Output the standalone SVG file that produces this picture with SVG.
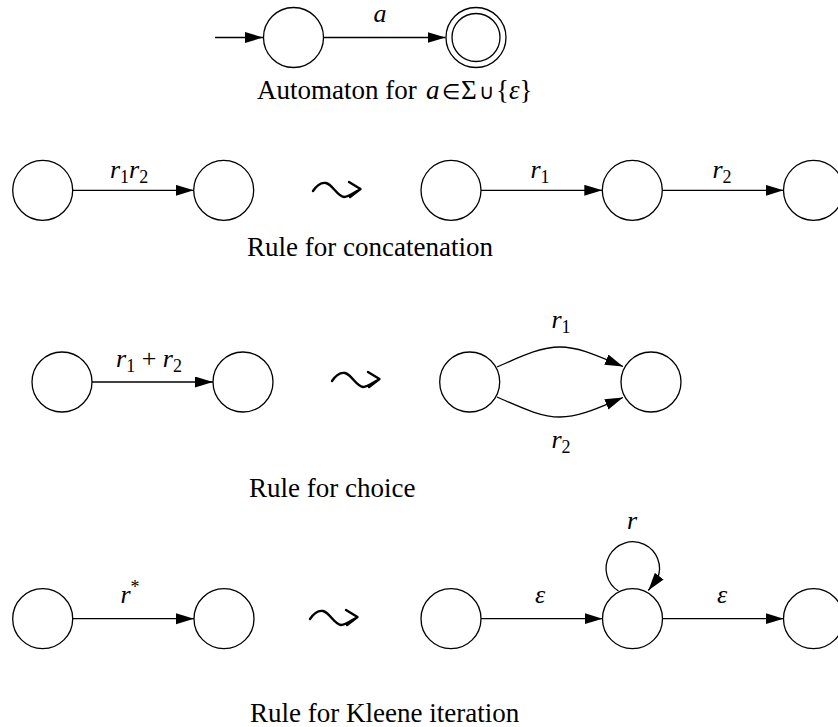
<svg xmlns="http://www.w3.org/2000/svg" width="838" height="727" viewBox="0 0 838 727">
<style>
.st{fill:#fff;stroke:#000;stroke-width:1.3}
.ed{fill:none;stroke:#000;stroke-width:1.3}
.sq{fill:none;stroke:#000;stroke-width:2.4;stroke-linecap:round;stroke-linejoin:round}
.cap{font-family:"Liberation Serif","Times New Roman",serif;font-size:27px;fill:#000}
.lb{font-family:"Liberation Serif","Times New Roman",serif;font-size:26px;font-style:italic;fill:#000}
.sub{font-style:normal;font-size:18px}
.sym{font-size:21px}
</style>
<defs>
<marker id="ah" markerUnits="userSpaceOnUse" markerWidth="19" markerHeight="12" refX="18" refY="5.5" orient="auto">
<path d="M0,0 L18,5.5 L0,11 z" fill="#000"/>
</marker>
<path id="squig" d="M0,1 C4,-5 8,-8 13,-7 C20,-5 24,6 31,7 C36,7 42,2 47.5,-1 M36,-8 L47.5,-1 L37,7"/>
</defs>

<rect width="838" height="727" fill="#fff"/>

<g id="connectors">
<path class="ed" d="M215,37.5 L263,37.5" marker-end="url(#ah)"/>
<path class="ed" d="M324,37.5 L445.5,37.5" marker-end="url(#ah)"/>
<path class="ed" d="M72.7,190.3 L193.7,190.3" marker-end="url(#ah)"/>
<path class="ed" d="M481,190.3 L602.3,190.3" marker-end="url(#ah)"/>
<path class="ed" d="M662.3,190.3 L783.5,190.3" marker-end="url(#ah)"/>
<path class="ed" d="M92,382 L213,382" marker-end="url(#ah)"/>
<path class="ed" d="M497,367 C520,357 540,347 560,347 C580,347 600,357 623,366.5" marker-end="url(#ah)"/>
<path class="ed" d="M497,397 C520,407 540,417 560,417 C580,417 600,407 623,397.5" marker-end="url(#ah)"/>
<path class="ed" d="M72.7,618.7 L194,618.7" marker-end="url(#ah)"/>
<path class="ed" d="M481,618.7 L602.5,618.7" marker-end="url(#ah)"/>
<path class="ed" d="M662.5,618.7 L783.5,618.7" marker-end="url(#ah)"/>
<path class="ed" d="M618.5,591 A26.7,26.7 0 1 1 657.5,578.5 L648.3,590.5" marker-end="url(#ah)"/>
</g>

<g id="row1">
<g id="a0"><circle class="st" cx="293.5" cy="37.5" r="30"/></g>
<g id="a1"><circle class="st" cx="476" cy="37.5" r="30"/><circle class="st" cx="476" cy="37.5" r="24"/></g>
<text class="lb" x="380" y="22" text-anchor="middle">a</text>
<text class="cap" x="257" y="99">Automaton for <tspan x="426" font-style="italic">a</tspan><tspan x="442" class="sym">∈</tspan><tspan x="461">Σ</tspan><tspan x="479" class="sym">∪</tspan><tspan x="496">{<tspan font-style="italic">ε</tspan>}</tspan></text>
</g>

<g id="row2">
<g id="c0"><circle class="st" cx="42.7" cy="190.3" r="30"/></g>
<g id="c1"><circle class="st" cx="223.7" cy="190.3" r="30"/></g>
<text class="lb" x="129" y="178" text-anchor="middle">r<tspan class="sub" dy="5">1</tspan><tspan dy="-5">r</tspan><tspan class="sub" dy="5">2</tspan></text>
<use href="#squig" class="sq" x="313" y="190"/>
<g id="c2"><circle class="st" cx="451" cy="190.3" r="30"/></g>
<g id="c3"><circle class="st" cx="632.3" cy="190.3" r="30"/></g>
<g id="c4"><circle class="st" cx="813.5" cy="190.3" r="30"/></g>
<text class="lb" x="540" y="178" text-anchor="middle">r<tspan class="sub" dy="5">1</tspan></text>
<text class="lb" x="722" y="178" text-anchor="middle">r<tspan class="sub" dy="5">2</tspan></text>
<text class="cap" x="247" y="256">Rule for concatenation</text>
</g>

<g id="row3">
<g id="h0"><circle class="st" cx="62" cy="382" r="30"/></g>
<g id="h1"><circle class="st" cx="243" cy="382" r="30"/></g>
<text class="lb" x="149" y="367" text-anchor="middle">r<tspan class="sub" dy="5">1</tspan><tspan font-style="normal" dy="-5"> + </tspan>r<tspan class="sub" dy="5">2</tspan></text>
<use href="#squig" class="sq" x="332" y="380"/>
<g id="h2"><circle class="st" cx="469.7" cy="382" r="30"/></g>
<g id="h3"><circle class="st" cx="651" cy="382" r="30"/></g>
<text class="lb" x="561" y="328" text-anchor="middle">r<tspan class="sub" dy="5">1</tspan></text>
<text class="lb" x="561" y="448" text-anchor="middle">r<tspan class="sub" dy="5">2</tspan></text>
<text class="cap" x="249" y="497">Rule for choice</text>
</g>

<g id="row4">
<g id="k0"><circle class="st" cx="42.7" cy="618.7" r="30"/></g>
<g id="k1"><circle class="st" cx="224" cy="618.7" r="30"/></g>
<text class="lb" x="130" y="603" text-anchor="middle">r<tspan class="sub" dy="-10">*</tspan></text>
<use href="#squig" class="sq" x="310" y="618"/>
<g id="k2"><circle class="st" cx="451" cy="618.7" r="30"/></g>
<g id="k3"><circle class="st" cx="632.5" cy="618.7" r="30"/></g>
<g id="k4"><circle class="st" cx="813.5" cy="618.7" r="30"/></g>
<text class="lb" x="632" y="529" text-anchor="middle">r</text>
<text class="lb" x="540" y="603" text-anchor="middle">ε</text>
<text class="lb" x="722" y="603" text-anchor="middle">ε</text>
<text class="cap" x="250" y="722">Rule for Kleene iteration</text>
</g>
</svg>
